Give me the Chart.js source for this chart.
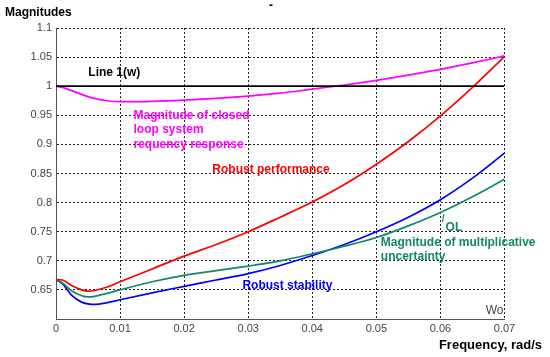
<!DOCTYPE html>
<html>
<head>
<meta charset="utf-8">
<script src="https://cdn.jsdelivr.net/npm/chart.js@4.4.0/dist/chart.umd.min.js"></script>
<style>
html,body{margin:0;padding:0;background:#fff;}
#wrap{width:550px;height:357px;position:relative;}
</style>
</head>
<body>
<div id="wrap"><canvas id="c" width="550" height="357"></canvas></div>
<script>
const freq = [0, 0.001, 0.0025, 0.004, 0.005, 0.006, 0.008, 0.01, 0.015, 0.02, 0.025, 0.03, 0.035, 0.04, 0.045, 0.05, 0.055, 0.06, 0.065, 0.07];
const closedLoop = [1.0, 0.998, 0.992, 0.986, 0.982, 0.979, 0.975, 0.9735, 0.974, 0.976, 0.979, 0.983, 0.988, 0.995, 1.002, 1.010, 1.019, 1.029, 1.040, 1.052];
const robustPerf = [0.668, 0.667, 0.657, 0.650, 0.648, 0.649, 0.655, 0.664, 0.686, 0.708, 0.728, 0.750, 0.775, 0.801, 0.831, 0.866, 0.905, 0.949, 0.998, 1.051];
const multUnc = [0.667, 0.662, 0.648, 0.640, 0.638, 0.639, 0.644, 0.650, 0.664, 0.675, 0.683, 0.691, 0.700, 0.712, 0.725, 0.740, 0.760, 0.783, 0.810, 0.840];
const robustStab = [0.667, 0.661, 0.640, 0.629, 0.626, 0.625, 0.628, 0.633, 0.645, 0.656, 0.667, 0.678, 0.692, 0.709, 0.728, 0.750, 0.775, 0.805, 0.842, 0.885];
const lineOneX = [0, 0.07];
const lineOneY = [1, 1];
const xTicks = [0, 0.01, 0.02, 0.03, 0.04, 0.05, 0.06, 0.07];
const yTicks = [0.65, 0.7, 0.75, 0.8, 0.85, 0.9, 0.95, 1, 1.05, 1.1];

const toPts = (xs, ys) => xs.map((x, i) => ({x: x, y: ys[i]}));

const labels = [
  {t: 'Line 1(w)', x: 0.00505, y: 1.023, c: '#000000'},
  {t: 'Magnitude of closed', x: 0.0121, y: 0.9488, c: '#ff00ff'},
  {t: 'loop system', x: 0.0121, y: 0.9247, c: '#ff00ff'},
  {t: 'requency response', x: 0.0121, y: 0.8988, c: '#ff00ff'},
  {t: 'Robust performance', x: 0.0244, y: 0.8564, c: '#ff0000'},
  {t: 'Robust stability', x: 0.0291, y: 0.658, c: '#0000ff'},
  {t: 'Magnitude of multiplicative', x: 0.0507, y: 0.731, c: '#11886a'},
  {t: 'uncertainty', x: 0.0507, y: 0.707, c: '#11886a'},
  {t: 'OL', x: 0.0608, y: 0.757, c: '#11886a'}
];

const textPlugin = {
  id: 'texts',
  afterDatasetsDraw(chart) {
    const ctx = chart.ctx;
    const xs = chart.scales.x, ys = chart.scales.y;
    ctx.save();
    ctx.textBaseline = 'middle';
    ctx.textAlign = 'left';
    ctx.font = 'bold 12px "Liberation Sans", Arial, sans-serif';
    labels.forEach(l => {
      ctx.fillStyle = l.c;
      ctx.fillText(l.t, xs.getPixelForValue(l.x), ys.getPixelForValue(l.y));
    });
    ctx.font = 'bold 10px "Liberation Sans", Arial, sans-serif';
    ctx.fillStyle = '#11886a';
    ctx.fillText('/', xs.getPixelForValue(0.0602), ys.getPixelForValue(0.772));
    ctx.font = '12px "Liberation Sans", Arial, sans-serif';
    ctx.fillStyle = '#444444';
    ctx.textAlign = 'right';
    ctx.fillText('Wo', xs.right - 1, ys.bottom - 8);
    ctx.fillStyle = '#000000';
    ctx.font = 'bold 13px "Liberation Sans", Arial, sans-serif';
    ctx.textAlign = 'right';
    ctx.fillText('Frequency, rad/s', 542, 345);
    ctx.textAlign = 'left';
    ctx.font = 'bold 12px "Liberation Sans", Arial, sans-serif';
    ctx.fillText('Magnitudes', 5, 13);
    ctx.textAlign = 'center';
    ctx.fillText('-', 271, 6);
    ctx.restore();
  }
};

const ds = (data, color) => ({
  data: data, borderColor: color, borderWidth: 1.7, pointRadius: 0,
  fill: false, cubicInterpolationMode: 'monotone'
});

new Chart(document.getElementById('c'), {
  type: 'line',
  data: {
    datasets: [
      ds(toPts(lineOneX, lineOneY), '#000000'),
      ds(toPts(freq, closedLoop), '#ff00ff'),
      ds(toPts(freq, robustPerf), '#ff0000'),
      ds(toPts(freq, multUnc), '#11886a'),
      ds(toPts(freq, robustStab), '#0000ff')
    ]
  },
  options: {
    responsive: false,
    animation: false,
    layout: {padding: {top: 28, right: 45.5, left: 0, bottom: 0}},
    plugins: {legend: {display: false}, tooltip: {enabled: false}, title: {display: false}},
    scales: {
      x: {
        type: 'linear', min: 0, max: 0.07,
        afterBuildTicks: s => { s.ticks = xTicks.map(v => ({value: v})); },
        afterFit: s => { s.height = 38; },
        ticks: {
          color: '#444', padding: 3, maxRotation: 0,
          font: {family: '"Liberation Sans", Arial, sans-serif', size: 11},
          callback: v => String(v)
        },
        grid: {color: '#222', lineWidth: 1, drawTicks: false},
        border: {display: true, color: '#555', width: 1, dash: [2, 2]}
      },
      y: {
        type: 'linear', min: 0.6, max: 1.1,
        afterBuildTicks: s => { s.ticks = yTicks.map(v => ({value: v})); },
        afterFit: s => { s.width = 56; },
        ticks: {
          color: '#444', padding: 4,
          font: {family: '"Liberation Sans", Arial, sans-serif', size: 11},
          callback: v => String(v)
        },
        grid: {color: '#222', lineWidth: 1, drawTicks: false},
        border: {display: true, color: '#555', width: 1, dash: [2, 2]}
      }
    }
  },
  plugins: [textPlugin]
});
</script>
</body>
</html>
